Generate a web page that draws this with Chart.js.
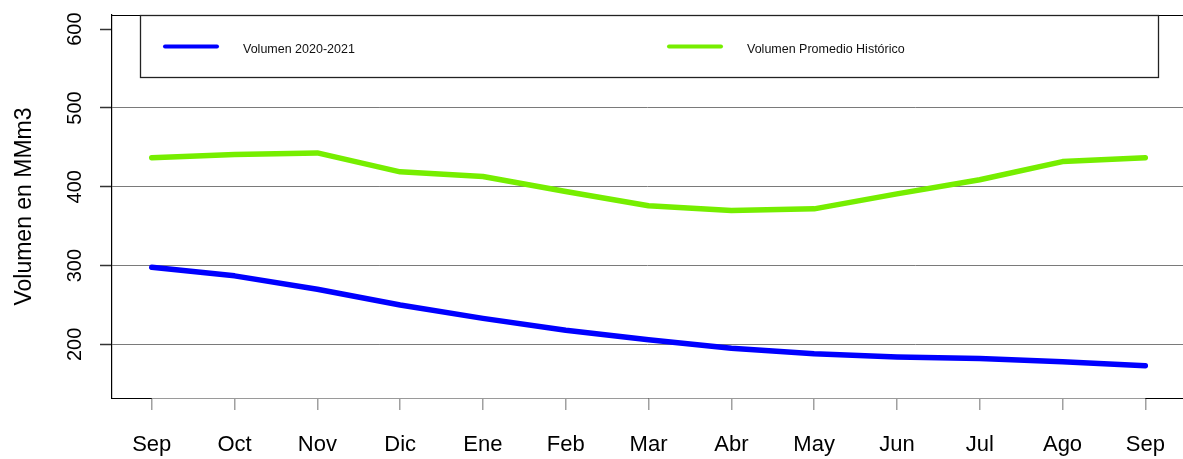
<!DOCTYPE html>
<html>
<head>
<meta charset="utf-8">
<script src="https://cdn.jsdelivr.net/npm/chart.js@4/dist/chart.umd.min.js"></script>
<style>
  html, body { margin: 0; padding: 0; background: #fff; }
  #wrap { width: 1183px; height: 459px; }
</style>
</head>
<body>
<div id="wrap"><canvas id="c" width="1183" height="459"></canvas></div>
<script>
// ---- data ----
const months = ['Sep','Oct','Nov','Dic','Ene','Feb','Mar','Abr','May','Jun','Jul','Ago','Sep'];
const vol2021 = [298, 287, 270, 250, 233, 218, 206, 195, 188, 184, 182, 178, 173];
const volHist = [437, 441, 443, 419, 413, 394, 376, 370, 372, 391, 409, 432, 437];
const yTicks = [200, 300, 400, 500, 600];
const yGridLines = [200, 300, 400, 500];
const seriesNames = ['Volumen 2020-2021', 'Volumen Promedio Histórico'];
const yTitle = 'Volumen en MMm3';

const FONT = "'Liberation Sans', Arial, sans-serif";

const toPts = arr => arr.map((v, i) => ({ x: i, y: v }));

const framePlugin = {
  id: 'frame',
  afterDraw(chart) {
    const ctx = chart.ctx;
    const a = chart.chartArea;
    const xs = chart.scales.x;
    ctx.save();
    // box top and bottom
    ctx.strokeStyle = '#000';
    ctx.lineWidth = 1;
    ctx.beginPath();
    ctx.moveTo(a.left, a.top + 0.5); ctx.lineTo(chart.width, a.top + 0.5);
    ctx.moveTo(a.left, a.bottom + 0.5); ctx.lineTo(chart.width, a.bottom + 0.5);
    ctx.stroke();
    // gray x-axis line between first and last category
    ctx.strokeStyle = '#9a9a9a';
    ctx.beginPath();
    ctx.moveTo(xs.getPixelForValue(0), a.bottom + 0.5);
    ctx.lineTo(xs.getPixelForValue(months.length - 1), a.bottom + 0.5);
    ctx.stroke();

    // legend box
    const lx = 140, ly = a.top, lw = 1018, lh = 62;
    ctx.fillStyle = '#fff';
    ctx.fillRect(lx, ly, lw, lh);
    ctx.strokeStyle = '#222';
    ctx.lineWidth = 1.3;
    ctx.strokeRect(lx + 0.5, ly + 0.5, lw, lh);
    const entries = [
      { x: 163, ds: chart.data.datasets[0] },
      { x: 667, ds: chart.data.datasets[1] }
    ];
    ctx.font = '12.5px ' + FONT;
    ctx.textBaseline = 'middle';
    ctx.textAlign = 'left';
    entries.forEach(e => {
      ctx.strokeStyle = e.ds.borderColor;
      ctx.lineWidth = 4;
      ctx.lineCap = 'round';
      ctx.beginPath();
      ctx.moveTo(e.x + 2, 46.5); ctx.lineTo(e.x + 54, 46.5);
      ctx.stroke();
      ctx.fillStyle = '#111';
      ctx.fillText(e.ds.label, e.x + 80, 49.5);
    });
    ctx.restore();
  }
};

new Chart(document.getElementById('c'), {
  type: 'line',
  data: {
    datasets: [
      { label: seriesNames[0], data: toPts(vol2021), borderColor: '#0000FF', backgroundColor: '#0000FF',
        borderWidth: 5.5, pointRadius: 0, tension: 0, borderCapStyle: 'round', borderJoinStyle: 'round' },
      { label: seriesNames[1], data: toPts(volHist), borderColor: '#76EE00', backgroundColor: '#76EE00',
        borderWidth: 5.5, pointRadius: 0, tension: 0, borderCapStyle: 'round', borderJoinStyle: 'round' }
    ]
  },
  options: {
    responsive: false,
    animation: false,
    events: [],
    layout: { padding: { top: 15, left: 0, right: 0, bottom: 0 } },
    plugins: { legend: { display: false }, tooltip: { enabled: false } },
    scales: {
      x: {
        type: 'linear',
        min: -0.48,
        max: 12.455,
        afterBuildTicks: s => { s.ticks = months.map((m, i) => ({ value: i })); },
        afterFit: s => { s.height = 61; s.paddingLeft = 0; s.paddingRight = 0; },
        ticks: {
          autoSkip: false, maxRotation: 0, minRotation: 0, padding: 22,
          color: '#000', font: { family: FONT, size: 22 },
          callback: v => months[v]
        },
        grid: { drawOnChartArea: false, tickLength: 12, color: '#a0a0a0', lineWidth: 1.5 },
        border: { display: false }
      },
      y: {
        min: 132,
        max: 618,
        afterBuildTicks: s => { s.ticks = yTicks.map(v => ({ value: v })); },
        afterFit: s => { s.width = 112; s.paddingTop = 0; s.paddingBottom = 0; },
        ticks: {
          minRotation: 90, maxRotation: 90, crossAlign: 'center', padding: 8,
          color: '#000', font: { family: FONT, size: 20 }
        },
        grid: {
          color: c => (c.tick && yGridLines.includes(c.tick.value)) ? '#7a7a7a' : 'rgba(0,0,0,0)',
          lineWidth: 1, tickLength: 12, tickColor: '#333', tickWidth: 1.5
        },
        border: { display: true, color: '#000', width: 1.2 },
        title: {
          display: true, text: yTitle, color: '#000',
          font: { family: FONT, size: 23, lineHeight: 1.2 },
          padding: { top: 11, bottom: 0 }
        }
      }
    }
  },
  plugins: [framePlugin]
});
</script>
</body>
</html>
